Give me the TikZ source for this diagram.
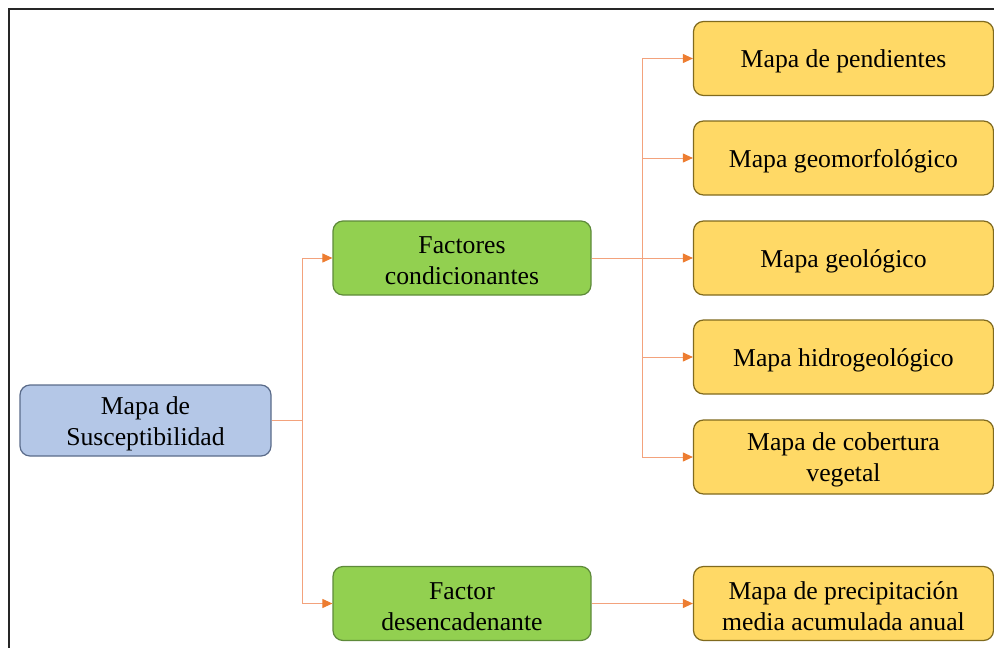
\documentclass[tikz,border=0pt]{standalone}
\usepackage{fontspec}
\setmainfont{Liberation Serif}
\usetikzlibrary{arrows.meta}
\definecolor{blueF}{HTML}{B4C7E7}
\definecolor{blueD}{HTML}{5A6B8A}
\definecolor{greenF}{HTML}{92D050}
\definecolor{greenD}{HTML}{5E8A3A}
\definecolor{yelF}{HTML}{FFD966}
\definecolor{yelD}{HTML}{806A1E}
\definecolor{lineC}{HTML}{F3A27C}
\definecolor{tipC}{HTML}{ED7D31}
\tikzset{
  boxbase/.style={rounded corners=10pt, line width=1.2pt, inner sep=0pt},
  lbl/.style={align=center, inner sep=0pt, yshift=-3pt,
    font=\fontsize{25.7}{31}\selectfont, text=black},
  bluebox/.style={boxbase, draw=blueD, fill=blueF, minimum width=251pt, minimum height=71pt},
  greenbox/.style={boxbase, draw=greenD, fill=greenF, minimum width=258pt, minimum height=74pt},
  yelbox/.style={boxbase, draw=yelD, fill=yelF, minimum width=300pt, minimum height=74pt},
  conn/.style={draw=lineC, line width=1pt, -{Triangle[length=10pt,width=9pt,fill=tipC,color=tipC]}},
  connl/.style={draw=lineC, line width=1pt}
}
\begin{document}
\begin{tikzpicture}[x=1pt,y=-1pt]
\useasboundingbox (0,0) rectangle (994,648);
\draw[line width=2pt, color=black!85] (9,660) -- (9,9) -- (1000,9);
\node[bluebox, label={[lbl]center:Mapa de\\Susceptibilidad}] (m) at (145.5,420.5) {};
\node[greenbox, label={[lbl]center:Factores\\condicionantes}] (fc) at (462,258) {};
\node[greenbox, label={[lbl]center:Factor\\desencadenante}] (fd) at (462,603.5) {};
\node[yelbox, label={[lbl]center:Mapa de pendientes}] (y1) at (843.5,58.5) {};
\node[yelbox, label={[lbl]center:Mapa geomorfológico}] (y2) at (843.5,158) {};
\node[yelbox, label={[lbl]center:Mapa geológico}] (y3) at (843.5,258) {};
\node[yelbox, label={[lbl]center:Mapa hidrogeológico}] (y4) at (843.5,357) {};
\node[yelbox, label={[lbl]center:Mapa de cobertura\\vegetal}] (y5) at (843.5,457) {};
\node[yelbox, label={[lbl]center:Mapa de precipitación\\media acumulada anual}] (y6) at (843.5,603.5) {};
\coordinate (j1) at (302,420.5);
\coordinate (j2) at (642,258);
\draw[connl] (m.east) -- (j1);
\draw[conn] (j1) |- (fc.west);
\draw[conn] (j1) |- (fd.west);
\draw[connl] (fc.east) -- (j2);
\draw[conn] (j2) |- (y1.west);
\draw[conn] (j2) |- (y2.west);
\draw[conn] (j2) -- (y3.west);
\draw[conn] (j2) |- (y4.west);
\draw[conn] (j2) |- (y5.west);
\draw[conn] (fd.east) -- (y6.west);
\end{tikzpicture}
\end{document}
